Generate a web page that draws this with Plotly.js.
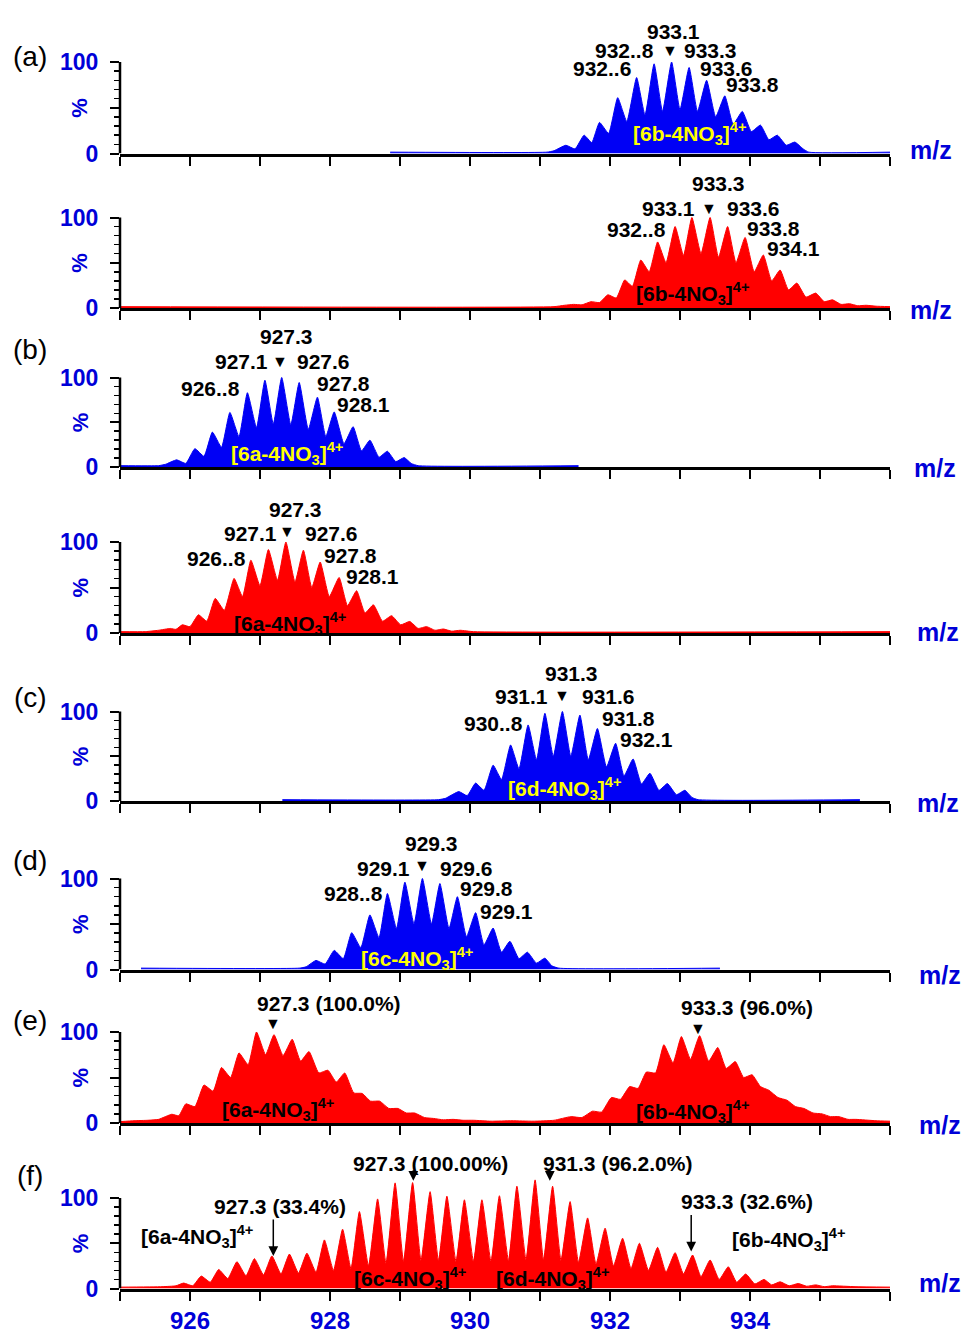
<!DOCTYPE html>
<html><head><meta charset="utf-8">
<script src="https://cdn.plot.ly/plotly-3.0.1.min.js"></script>
<style>html,body{margin:0;padding:0;background:#fff}#chart{width:964px;height:1333px}</style>
</head><body><div id="chart"></div><script>
// ---------------- DATA ----------------
// x ticks
const xTickVals = [925, 926, 927, 928, 929, 930, 931, 932, 933, 934, 935, 936];
const xTickText = ['', '926', '', '928', '', '930', '', '932', '', '934', '', ''];
const yTickVals = [0, 50, 100];
const yTickText = ['0', '', '100'];
const yMinorVals = [10, 20, 30, 40, 60, 70, 80, 90];

// (a) top, blue: [6b-4NO3]4+
const mzA1 = [928.86, 931.10, 931.20, 931.37, 931.50, 931.63, 931.74, 931.85, 931.98, 932.11, 932.24, 932.38, 932.50, 932.63, 932.75, 932.88, 933.00, 933.13, 933.25, 933.38, 933.51, 933.64, 933.76, 933.89, 934.02, 934.15, 934.27, 934.39, 934.52, 934.64, 934.76, 934.84, 936.0];
const intA1 = [1.5, 1.5, 3, 9, 5, 20, 12, 34, 22, 61, 35, 83, 42, 98, 46, 100, 48, 94, 46, 80, 40, 63, 32, 46, 24, 31, 15, 20, 9, 12.5, 5, 1.5, 1.5];
// (a) bottom, red
const mzA2 = [925.0, 931.20, 931.35, 931.48, 931.60, 931.73, 931.85, 931.97, 932.09, 932.21, 932.32, 932.44, 932.56, 932.68, 932.80, 932.93, 933.05, 933.17, 933.30, 933.43, 933.55, 933.68, 933.80, 933.93, 934.06, 934.19, 934.31, 934.43, 934.55, 934.67, 934.80, 934.94, 935.06, 935.18, 935.30, 935.42, 935.54, 935.66, 935.80, 936.0];
const intA2 = [1.5, 1.5, 3, 4, 3.5, 7, 6, 14.6, 11, 31, 24, 53, 40, 73, 50, 90, 58, 100, 60, 100, 56, 90, 50, 78, 40, 58.6, 30, 42, 20, 27.5, 12, 16.5, 7, 9, 4, 4.7, 2.5, 3, 2, 1.5];
// (b) top, blue: [6a-4NO3]4+
const mzB1 = [925.0, 925.55, 925.65, 925.81, 925.94, 926.07, 926.20, 926.32, 926.45, 926.57, 926.70, 926.82, 926.95, 927.07, 927.19, 927.31, 927.44, 927.56, 927.69, 927.82, 927.94, 928.06, 928.20, 928.33, 928.45, 928.57, 928.70, 928.82, 928.94, 929.06, 929.16, 929.26, 931.55];
const intB1 = [1.5, 1.5, 3, 8, 4, 20.5, 12, 39, 22, 61, 34, 83, 44, 97, 48, 100, 47, 94.4, 42, 78, 34, 61.5, 26, 45, 18, 30, 11, 17.6, 6, 10.5, 4, 1.5, 1.5];
// (b) bottom, red
const mzB2 = [925.0, 925.36, 925.55, 925.72, 925.80, 925.89, 926.00, 926.12, 926.24, 926.36, 926.49, 926.63, 926.75, 926.87, 927.00, 927.12, 927.25, 927.37, 927.50, 927.62, 927.74, 927.86, 927.99, 928.13, 928.25, 928.38, 928.50, 928.62, 928.75, 928.88, 929.01, 929.14, 929.26, 929.38, 929.50, 929.62, 929.74, 929.86, 930.05, 936.0];
const intB2 = [1.5, 1.5, 3, 5, 4, 9, 7, 20, 13, 38, 25, 60, 40, 80, 52, 91.7, 58, 100, 56, 91, 50, 78, 40, 61, 30, 46.5, 22, 31, 13, 19, 9, 12.7, 5, 7, 3, 4.4, 2, 3, 1.5, 1.5];
// (c) blue: [6d-4NO3]4+
const mzC = [927.32, 929.55, 929.65, 929.84, 929.96, 930.08, 930.20, 930.33, 930.45, 930.58, 930.70, 930.83, 930.95, 931.07, 931.19, 931.32, 931.44, 931.57, 931.69, 931.82, 931.95, 932.08, 932.20, 932.33, 932.45, 932.57, 932.70, 932.82, 932.95, 933.07, 933.17, 933.26, 935.57];
const intC = [1.5, 1.5, 3, 10.5, 6, 20, 12, 40, 24, 62.6, 36, 85, 46, 98, 50, 100, 50, 96, 46, 81, 38, 64.5, 28, 47, 19, 31, 12, 19.5, 7, 12, 4, 1.5, 1.5];
// (d) blue: [6c-4NO3]4+
const mzD = [925.30, 927.56, 927.66, 927.80, 927.93, 928.06, 928.19, 928.31, 928.44, 928.57, 928.70, 928.82, 928.95, 929.07, 929.20, 929.32, 929.45, 929.57, 929.70, 929.82, 929.95, 930.08, 930.20, 930.33, 930.45, 930.57, 930.70, 930.82, 930.95, 931.07, 931.17, 931.27, 933.57];
const intD = [1.5, 1.5, 3, 10, 6, 21, 12, 40.5, 24, 60, 35, 83.5, 45, 96, 50, 100, 50, 94.5, 45, 80, 36, 62.5, 27, 45.5, 19, 31, 12, 19, 7, 12.5, 4, 1.5, 1.5];
// (e) red: mixture of 6a and 6b
const mzE = [925.0, 925.2, 925.4, 925.55, 925.74, 925.84, 925.94, 926.07, 926.20, 926.33, 926.45, 926.58, 926.70, 926.83, 926.95, 927.08, 927.20, 927.33, 927.46, 927.58, 927.70, 927.84, 927.97, 928.09, 928.21, 928.34, 928.46, 928.58, 928.71, 928.84, 928.97, 929.09, 929.21, 929.35, 929.48, 929.62, 929.76, 929.90, 930.05, 930.30, 930.60, 930.90, 931.20, 931.44, 931.60, 931.75, 931.88, 932.02, 932.15, 932.28, 932.40, 932.52, 932.65, 932.77, 932.90, 933.02, 933.15, 933.28, 933.41, 933.54, 933.66, 933.79, 933.91, 934.03, 934.15, 934.27, 934.40, 934.53, 934.65, 934.77, 934.90, 935.03, 935.15, 935.27, 935.40, 935.51, 935.80, 936.0];
const intE = [1.5, 2.5, 3, 4, 9.6, 8, 21, 18, 41.7, 35, 61, 50, 77, 64, 100, 75, 97, 74, 92, 68, 78.5, 55, 58, 45, 55, 33, 32.5, 24, 24, 16, 16, 11, 11, 6, 5, 3.5, 4, 3, 3, 2, 2.5, 2, 3, 7, 6, 13, 12, 28, 26, 40, 38, 56, 55, 86, 66, 95, 70, 96, 68, 83, 60, 67.5, 50, 53, 40, 36, 28, 25, 18, 16, 11, 10, 7, 7, 4, 4, 2.5, 2];
// (f) red: mixture of 6a, 6b, 6c, 6d
const mzF = [925.0, 925.6, 925.8, 925.91, 926.04, 926.16, 926.29, 926.41, 926.54, 926.67, 926.80, 926.92, 927.05, 927.17, 927.30, 927.42, 927.55, 927.67, 927.80, 927.92, 928.05, 928.18, 928.30, 928.42, 928.55, 928.68, 928.80, 928.93, 929.05, 929.18, 929.30, 929.43, 929.55, 929.67, 929.80, 929.92, 930.05, 930.17, 930.30, 930.42, 930.55, 930.67, 930.80, 930.93, 931.05, 931.18, 931.30, 931.43, 931.55, 931.68, 931.80, 931.93, 932.05, 932.18, 932.30, 932.42, 932.55, 932.68, 932.80, 932.93, 933.05, 933.18, 933.30, 933.43, 933.56, 933.69, 933.81, 933.94, 934.07, 934.20, 934.31, 934.43, 934.56, 934.69, 934.81, 934.94, 935.06, 935.18, 935.50, 936.0];
const intF = [1.5, 2, 3, 6, 3, 13.7, 7, 21, 11, 29.6, 14, 33, 15, 36, 16, 38, 17, 39, 18, 53.7, 20, 65.5, 22, 85, 25, 99, 28, 116.7, 30, 117, 31, 107, 31, 102, 30, 98, 30, 98, 30, 102.5, 31, 113, 32, 120, 32, 113, 31, 96, 29, 78, 27, 66.7, 25, 55.5, 22, 50, 20, 45.5, 18, 39.6, 16, 37, 13, 31.5, 10, 24, 7, 16, 5, 10, 4, 7.4, 3, 5.5, 2.5, 4, 2, 3, 2, 1.5];

const panelLetters = ['(a)', '(b)', '(c)', '(d)', '(e)', '(f)'];

// ---------------- STYLE / LAYOUT ----------------
const BLUE = '#0000f5', RED = '#ff0000', YELLOW = '#ffff00', TXTBLUE = '#0000d8';
const FONT = 'Arial, "Liberation Sans", sans-serif';
const W = 964, H = 1333, ML = 120, MR = 74;
const PW = W - ML - MR;
// panel pixel geometry: baseline, 100-level, y range max
const P = [
  {B: 153.5, T: 62, R: 104},
  {B: 308, T: 217.5, R: 104},
  {B: 467, T: 377.5, R: 104},
  {B: 633, T: 542, R: 104},
  {B: 801, T: 711.5, R: 104},
  {B: 969.5, T: 878.5, R: 104},
  {B: 1123, T: 1032, R: 104},
  {B: 1288.5, T: 1198, R: 124}
];
const spectra = [
  {x: mzA1, y: intA1, c: BLUE, p: 0},
  {x: mzA2, y: intA2, c: RED, p: 1},
  {x: mzB1, y: intB1, c: BLUE, p: 2},
  {x: mzB2, y: intB2, c: RED, p: 3},
  {x: mzC, y: intC, c: BLUE, p: 4},
  {x: mzD, y: intD, c: BLUE, p: 5},
  {x: mzE, y: intE, c: RED, p: 6},
  {x: mzF, y: intF, c: RED, p: 7}
];
const ax = i => (i === 0 ? '' : String(i + 1));
// convert a panel's % value to paper y (for labels placed above the plot area)
const paperY = (i, v) => 1 - (P[i].B - (P[i].B - P[i].T) * v / 100) / H;

const traces = spectra.map(s => ({
  type: 'scatter', mode: 'lines', x: s.x, y: s.y,
  xaxis: 'x' + ax(s.p), yaxis: 'y' + ax(s.p),
  line: {color: s.c, width: 1, shape: 'spline', smoothing: 0.45},
  fill: 'tozeroy', fillcolor: s.c, hoverinfo: 'skip', showlegend: false
}));

const layout = {
  width: W, height: H,
  margin: {l: ML, r: MR, t: 0, b: 0},
  paper_bgcolor: '#fff', plot_bgcolor: 'rgba(0,0,0,0)',
  font: {family: FONT, color: '#000'},
  showlegend: false,
  annotations: [], shapes: []
};

P.forEach((g, i) => {
  const top = g.B - (g.B - g.T) * g.R / 100;
  layout['xaxis' + ax(i)] = {
    domain: [0, 1], range: [925, 936], anchor: 'y' + ax(i),
    matches: i === 0 ? undefined : 'x',
    showline: true, linewidth: 3, linecolor: '#000', mirror: false,
    ticks: 'outside', ticklen: 9, tickwidth: 2, tickcolor: '#000',
    tickmode: 'array', tickvals: xTickVals, ticktext: xTickText,
    showticklabels: i === P.length - 1,
    ticklabelstandoff: 0,
    tickfont: {family: FONT, size: 24, color: TXTBLUE, weight: 'bold'},
    showgrid: false, zeroline: false, fixedrange: true
  };
  layout['yaxis' + ax(i)] = {
    domain: [1 - g.B / H, 1 - top / H], range: [0, g.R], anchor: 'x' + ax(i),
    showline: false, showgrid: false, zeroline: false,
    ticks: 'outside', ticklen: 9, tickwidth: 2, tickcolor: '#000',
    tickmode: 'array', tickvals: yTickVals, ticktext: yTickText,
    ticklabelstandoff: 7,
    tickfont: {family: FONT, size: 23, color: TXTBLUE, weight: 'bold'},
    minor: {tickmode: 'array', tickvals: yMinorVals, ticks: 'outside', ticklen: 5, tickwidth: 1.5, tickcolor: '#000', showgrid: false},
    fixedrange: true
  };
  // y-axis line from 0 to 100
  layout.shapes.push({type: 'line', xref: 'paper', x0: 0, x1: 0, yref: 'y' + ax(i), y0: 0, y1: 100,
    line: {color: '#000', width: 2.5}, layer: 'above'});
  // % label
  layout.annotations.push({xref: 'paper', x: (80 - ML) / PW, yref: 'paper', y: paperY(i, 50),
    text: '<b>%</b>', textangle: -90, showarrow: false, xanchor: 'center', yanchor: 'middle',
    font: {family: FONT, size: 22, color: TXTBLUE}});
});

// m/z labels (pixel positions)
const mzLabelPx = [[931, 150], [931, 310], [935, 468], [938, 632], [938, 803], [940, 975], [940, 1125], [940, 1283]];
mzLabelPx.forEach(([px, py]) => layout.annotations.push({
  xref: 'paper', yref: 'paper', x: (px - ML) / PW, y: 1 - py / H, text: '<b>m/z</b>',
  showarrow: false, xanchor: 'center', yanchor: 'middle', font: {family: FONT, size: 25, color: TXTBLUE}
}));
// panel letters
const letterPx = [[30, 56], [30, 350], [30, 697], [30, 860], [30, 1020], [30, 1175]];
letterPx.forEach(([px, py], k) => layout.annotations.push({
  xref: 'paper', yref: 'paper', x: (px - ML) / PW, y: 1 - py / H, text: panelLetters[k],
  showarrow: false, xanchor: 'center', yanchor: 'middle', font: {family: FONT, size: 28, color: '#000'}
}));

function lab(i, x, y, t, opt) {
  layout.annotations.push(Object.assign({
    xref: 'x' + ax(i), yref: 'paper', x: x, y: paperY(i, y), text: '<b>' + t + '</b>',
    showarrow: false, xanchor: 'center', yanchor: 'middle',
    font: {family: FONT, size: 21, color: '#000'}
  }, opt || {}));
}
const tri = '▼';
const ion = s => '[' + s + '-4NO<sub>3</sub>]<sup>4+</sup>';
const yel = {font: {family: FONT, size: 21, color: YELLOW}};
const blk = {font: {family: FONT, size: 21, color: '#000'}};
const triF = {font: {family: FONT, size: 16, color: '#000'}};

// panel 1 (a, blue)
lab(0, 932.90, 133.5, '933.1'); lab(0, 932.21, 113, '932..8'); lab(0, 932.86, 113, tri, triF);
lab(0, 933.43, 113, '933.3'); lab(0, 931.89, 93.4, '932..6'); lab(0, 933.67, 93.4, '933.6');
lab(0, 934.03, 74.9, '933.8'); lab(0, 933.14, 22.4, ion('6b'), yel);
// panel 2 (a, red)
lab(1, 933.55, 137.8, '933.3'); lab(1, 932.83, 110.2, '933.1'); lab(1, 933.42, 110.2, tri, triF);
lab(1, 934.05, 110.2, '933.6'); lab(1, 932.38, 86.2, '932..8'); lab(1, 934.33, 88, '933.8');
lab(1, 934.62, 66, '934.1'); lab(1, 933.19, 16.2, ion('6b'), blk);
// panel 3 (b, blue)
lab(2, 927.38, 145.6, '927.3'); lab(2, 926.74, 117.7, '927.1'); lab(2, 927.29, 117.7, tri, triF);
lab(2, 927.90, 117.7, '927.6'); lab(2, 926.29, 87.9, '926..8'); lab(2, 928.19, 93.5, '927.8');
lab(2, 928.48, 69.3, '928.1'); lab(2, 927.38, 15.3, ion('6a'), yel);
// panel 4 (b, red)
lab(3, 927.50, 135.2, '927.3'); lab(3, 926.86, 109.6, '927.1'); lab(3, 927.38, 111.3, tri, triF);
lab(3, 928.02, 109.6, '927.6'); lab(3, 926.38, 82.1, '926..8'); lab(3, 928.29, 85.7, '927.8');
lab(3, 928.60, 61.9, '928.1'); lab(3, 927.43, 10.7, ion('6a'), blk);
// panel 5 (c)
lab(4, 931.45, 142.7, '931.3'); lab(4, 930.74, 116.5, '931.1'); lab(4, 931.32, 118.4, tri, triF);
lab(4, 931.98, 116.5, '931.6'); lab(4, 930.33, 86.8, '930..8'); lab(4, 932.26, 92.4, '931.8');
lab(4, 932.52, 68.2, '932.1'); lab(4, 931.36, 14.2, ion('6d'), yel);
// panel 6 (d)
lab(5, 929.45, 138.7, '929.3'); lab(5, 928.76, 111.2, '929.1'); lab(5, 929.32, 114.1, tri, triF);
lab(5, 929.95, 111.2, '929.6'); lab(5, 928.33, 83.7, '928..8'); lab(5, 930.24, 89.2, '929.8');
lab(5, 930.52, 63.5, '929.1'); lab(5, 929.24, 12.3, ion('6c'), yel);
// panel 7 (e)
lab(6, 927.98, 131, '927.3 (100.0%)'); lab(6, 927.19, 109.5, tri, triF);
lab(6, 927.26, 14.3, ion('6a'), blk);
lab(6, 933.95, 127, '933.3 (96.0%)'); lab(6, 933.26, 104, tri, triF);
lab(6, 933.19, 12.4, ion('6b'), blk);
// panel 8 (f)
lab(7, 929.43, 138.3, '927.3 (100.00%)'); lab(7, 932.10, 138.3, '931.3 (96.2.0%)');
lab(7, 927.29, 90.4, '927.3 (33.4%)'); lab(7, 933.95, 95.9, '933.3 (32.6%)');
lab(7, 926.10, 57.2, ion('6a'), blk); lab(7, 934.55, 53.6, ion('6b'), blk);
lab(7, 929.14, 11.3, ion('6c'), blk); lab(7, 931.19, 11.3, ion('6d'), blk);
function arrow(i, x, y, len) {
  layout.annotations.push({xref: 'x' + ax(i), yref: 'paper', x: x, y: paperY(i, y), text: '',
    showarrow: true, ax: 0, ay: -len, arrowhead: 2, arrowsize: 1.3, arrowwidth: 1.5, arrowcolor: '#000'});
}
arrow(7, 927.19, 36, 38); arrow(7, 933.16, 41, 38);
arrow(7, 929.19, 119, 12); arrow(7, 931.14, 119, 12);

Plotly.newPlot('chart', traces, layout, {displayModeBar: false, staticPlot: true});
</script></body></html>
